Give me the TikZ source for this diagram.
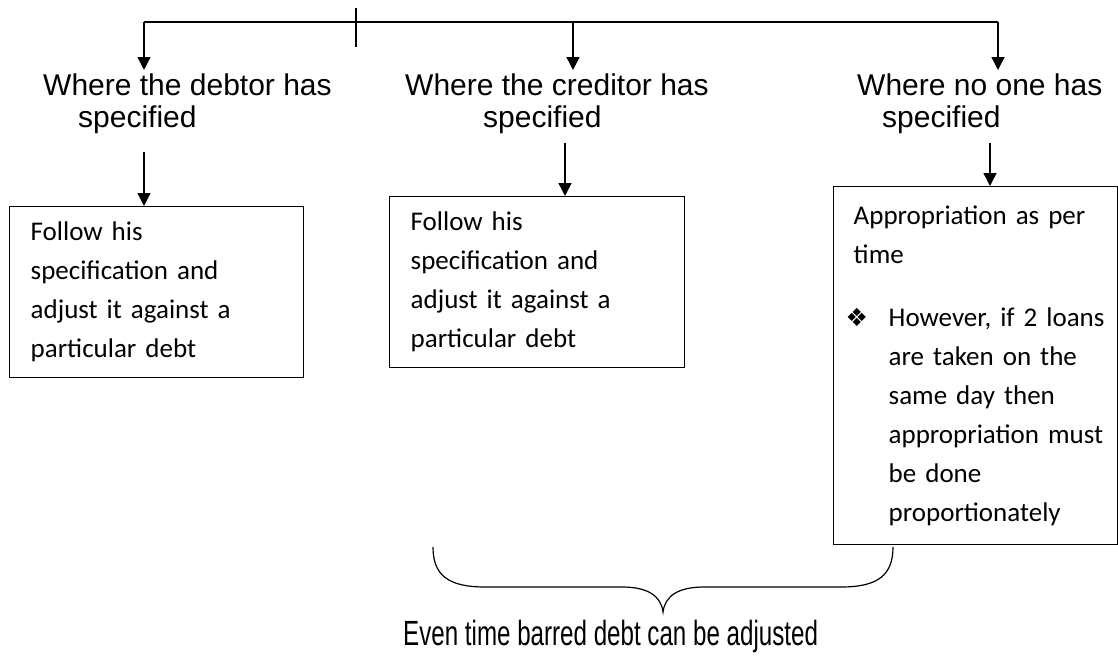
\documentclass[tikz,border=0pt]{standalone}
\usepackage{graphicx}
\usepackage{fontspec}
\setmainfont{Liberation Sans}
\newfontfamily\bodyfont{Carlito}
\newfontfamily\symfont{DejaVu Sans}
\usetikzlibrary{arrows.meta}

\begin{document}
\begin{tikzpicture}[x=1pt,y=-1pt,
  conn/.style={line width=1.4pt},
  arr/.style={conn,-{Triangle[width=13pt,length=13pt]}},
  heading/.style={anchor=base west, inner sep=0pt, align=left,
    font=\fontsize{30}{32}\selectfont},
  textbox/.style={draw, line width=1.4pt, anchor=north west, align=left,
    inner xsep=21pt, inner ysep=0pt,
    font=\bodyfont\fontsize{27}{39}\selectfont},
]
\useasboundingbox (0,0) rectangle (1118,656);

% distribution bar with its three branches
\coordinate (barL) at (144,22);
\coordinate (barM) at (573,22);
\coordinate (barR) at (998,22);
\coordinate (tickT) at (356,8);
\coordinate (tickB) at (356,47);
\coordinate (tipL) at (144,70);
\coordinate (tipM) at (573,70);
\coordinate (tipR) at (998,70);
\draw[conn] (barL) -- (barR);
\draw[conn] (tickT) -- (tickB);
\draw[arr] (barL) -- (tipL);
\draw[arr] (barM) -- (tipM);
\draw[arr] (barR) -- (tipR);

% headings (anchored on the baseline of their second line)
\node[heading] (h1) at (43,127) {Where the debtor has\\\hspace*{35pt}specified};
\node[heading] (h2) at (405,127) {Where the creditor has\\\hspace*{78pt}specified};
\node[heading] (h3) at (857,127) {Where no one has\\\hspace*{25pt}specified};

% boxes
\node[textbox, minimum width=294pt, minimum height=171pt, text width=252pt] (b1) at (9,206)
  {\mbox{Follow his}\\\mbox{specification and}\\\mbox{adjust it against a}\\\mbox{particular debt}};
\node[textbox, minimum width=295pt, minimum height=171pt, text width=253pt] (b2) at (389,196)
  {\mbox{Follow his}\\\mbox{specification and}\\\mbox{adjust it against a}\\\mbox{particular debt}};
\node[textbox, inner xsep=20pt, minimum width=284pt, minimum height=358pt, text width=244pt] (b3) at (833,186)
  {\mbox{Appropriation as per}\\\mbox{time}\\[24pt]
   \mbox{\hspace*{-8pt}\makebox[43pt][l]{\symfont\fontsize{25}{20}\selectfont ❖}However, if 2 loans}\\
   \mbox{\hspace*{35pt}are taken on the}\\
   \mbox{\hspace*{35pt}same day then}\\
   \mbox{\hspace*{35pt}appropriation must}\\
   \mbox{\hspace*{35pt}be done}\\
   \mbox{\hspace*{35pt}proportionately}};

% heading to box arrows
\coordinate (d1) at (144,152);
\coordinate (d2) at (565,143);
\coordinate (d3) at (990,143);
\draw[arr] (d1) -- (d1 |- b1.north);
\draw[arr] (d2) -- (d2 |- b2.north);
\draw[arr] (d3) -- (d3 |- b3.north);

% brace under the last two boxes
\coordinate (brL) at (433,547);
\coordinate (brR) at (893,547);
\coordinate (brTip) at (663,612);
\draw[line width=1.2pt] (brL) .. controls (433,575) and (448,587) .. (485,587)
  -- (622,587) .. controls (648,587) and (661,596) .. (brTip)
  .. controls (665,596) and (678,587) .. (704,587)
  -- (841,587) .. controls (878,587) and (893,575) .. (brR);

\node[anchor=base west, inner sep=0pt] (note) at (403,645)
  {\fontsize{35}{40}\selectfont\scalebox{0.69}[1]{Even time barred debt can be adjusted}};
\end{tikzpicture}
\end{document}
